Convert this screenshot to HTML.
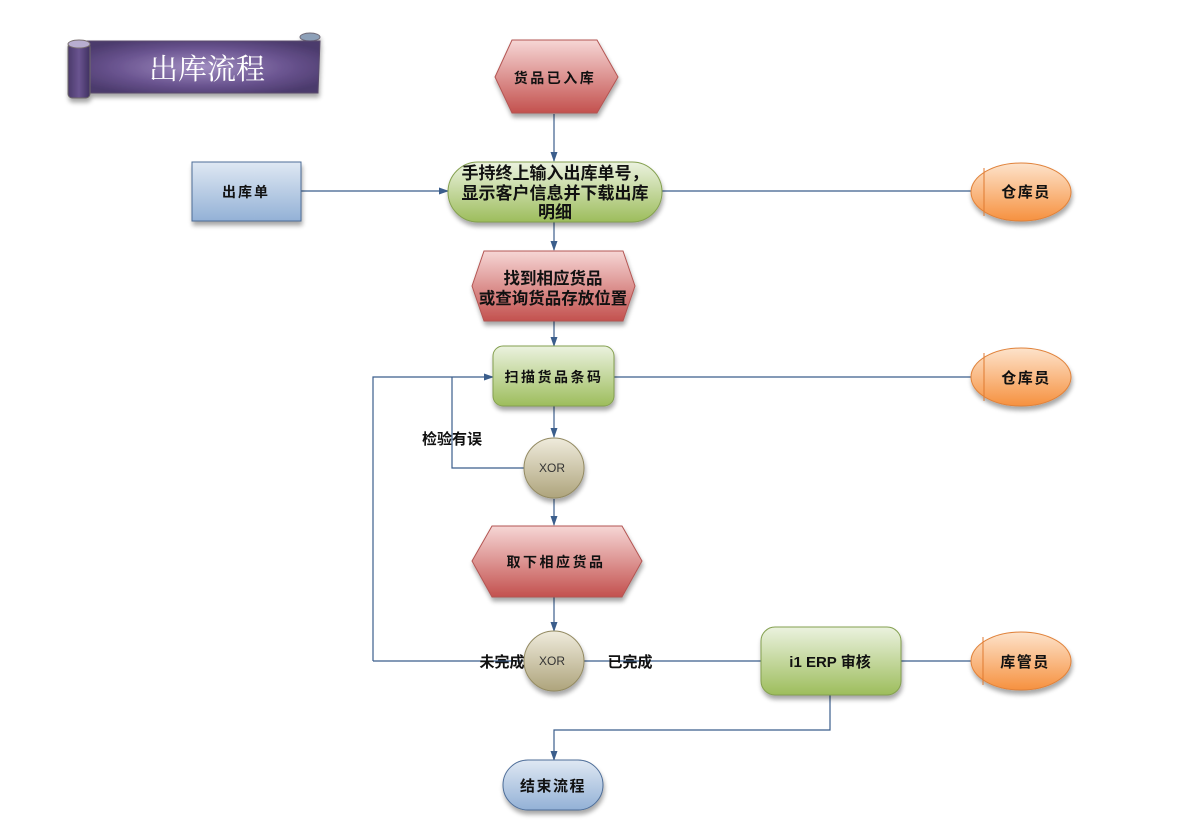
<!DOCTYPE html>
<html><head><meta charset="utf-8"><style>
html,body{margin:0;padding:0;background:#fff;}
svg{display:block;}
.t{font-family:"Liberation Sans","Noto Sans CJK SC",sans-serif;font-weight:bold;fill:#111;}
.l{stroke:#3b5e8c;stroke-width:1.2;fill:none;}
</style></head><body>
<svg width="1188" height="840" viewBox="0 0 1188 840" xmlns="http://www.w3.org/2000/svg">
<defs>
<filter id="sh" x="-20%" y="-20%" width="140%" height="150%">
<feGaussianBlur in="SourceAlpha" stdDeviation="2.5"/>
<feOffset dx="1" dy="4" result="o"/>
<feComponentTransfer><feFuncA type="linear" slope="0.35"/></feComponentTransfer>
<feMerge><feMergeNode/><feMergeNode in="SourceGraphic"/></feMerge>
</filter>
<linearGradient id="red" x1="0" y1="0" x2="0" y2="1"><stop offset="0" stop-color="#f6d6d5"/><stop offset="1" stop-color="#c3514e"/></linearGradient>
<linearGradient id="grn" x1="0" y1="0" x2="0" y2="1"><stop offset="0" stop-color="#ebf2df"/><stop offset="1" stop-color="#9dbd5c"/></linearGradient>
<linearGradient id="blu" x1="0" y1="0" x2="0" y2="1"><stop offset="0" stop-color="#dfe8f3"/><stop offset="1" stop-color="#93b1d6"/></linearGradient>
<linearGradient id="org" x1="0" y1="0" x2="0" y2="1"><stop offset="0" stop-color="#fde3cb"/><stop offset="1" stop-color="#f6913f"/></linearGradient>
<linearGradient id="xor" x1="0" y1="0" x2="0" y2="1"><stop offset="0" stop-color="#efebdc"/><stop offset="1" stop-color="#aea47c"/></linearGradient>
<radialGradient id="pur" cx="0.5" cy="0.5" r="0.6"><stop offset="0" stop-color="#a28fc2"/><stop offset="0.6" stop-color="#6a5490"/><stop offset="1" stop-color="#4b3a6c"/></radialGradient>
<linearGradient id="roll" x1="0" y1="0" x2="1" y2="0"><stop offset="0" stop-color="#4a3a6a"/><stop offset="0.5" stop-color="#6a5490"/><stop offset="1" stop-color="#3f3060"/></linearGradient>
<marker id="ar" markerWidth="10" markerHeight="8" refX="9" refY="4" orient="auto" markerUnits="userSpaceOnUse">
<path d="M0,0.5 L10,4 L0,7.5 Z" fill="#3b5e8c"/></marker>
</defs>

<!-- Title banner -->
<g filter="url(#sh)">
<ellipse cx="310" cy="37" rx="10" ry="4" fill="#8da0b8" stroke="#6f6a78" stroke-width="1"/>
<path d="M82,41 L320,41 L318,93 L82,93 Z" fill="url(#pur)" stroke="#5a4c6c" stroke-width="1"/>
<rect x="68" y="43" width="22" height="55" rx="4" fill="url(#roll)" stroke="#6f6a6a" stroke-width="1"/>
<ellipse cx="79" cy="44" rx="11" ry="4" fill="#b8aed0" stroke="#7a7070" stroke-width="1"/>
</g>
<text x="207" y="79" text-anchor="middle" font-family="'Liberation Serif','Noto Serif CJK SC',serif" font-size="29" fill="#ffffff">出库流程</text>

<!-- connectors -->
<line class="l" x1="554" y1="114" x2="554" y2="161" marker-end="url(#ar)"/>
<line class="l" x1="301" y1="191" x2="448" y2="191" marker-end="url(#ar)"/>
<line class="l" x1="662" y1="191" x2="972" y2="191"/>
<line class="l" x1="554" y1="222" x2="554" y2="250" marker-end="url(#ar)"/>
<line class="l" x1="554" y1="321" x2="554" y2="346" marker-end="url(#ar)"/>
<line class="l" x1="614" y1="377" x2="972" y2="377"/>
<polyline class="l" points="373,661 373,377 493,377" marker-end="url(#ar)"/>
<polyline class="l" points="524,468 452,468 452,377"/>
<line class="l" x1="554" y1="406" x2="554" y2="437" marker-end="url(#ar)"/>
<line class="l" x1="554" y1="499" x2="554" y2="525" marker-end="url(#ar)"/>
<line class="l" x1="554" y1="597" x2="554" y2="631" marker-end="url(#ar)"/>
<line class="l" x1="373" y1="661" x2="524" y2="661"/>
<line class="l" x1="584" y1="661" x2="761" y2="661"/>
<line class="l" x1="901" y1="661" x2="972" y2="661"/>
<polyline class="l" points="830,695 830,730 554,730 554,760" marker-end="url(#ar)"/>

<!-- shapes -->
<g filter="url(#sh)">
<polygon points="495,77 512,40 597,40 618,77 597,113 512,113" fill="url(#red)" stroke="#b35552" stroke-width="1"/>
<rect x="448" y="162" width="214" height="60" rx="30" fill="url(#grn)" stroke="#84a050" stroke-width="1"/>
<rect x="192" y="162" width="109" height="59" fill="url(#blu)" stroke="#4d6d98" stroke-width="1"/>
<ellipse cx="1021" cy="192" rx="50" ry="29" fill="url(#org)" stroke="#e0823a" stroke-width="1"/>
<polygon points="472,286 484,251 623,251 635,286 623,321 484,321" fill="url(#red)" stroke="#b35552" stroke-width="1"/>
<rect x="493" y="346" width="121" height="60" rx="10" fill="url(#grn)" stroke="#84a050" stroke-width="1"/>
<ellipse cx="1021" cy="377" rx="50" ry="29" fill="url(#org)" stroke="#e0823a" stroke-width="1"/>
<circle cx="554" cy="468" r="30" fill="url(#xor)" stroke="#938a62" stroke-width="1"/>
<polygon points="472,561 492,526 622,526 642,561 622,597 492,597" fill="url(#red)" stroke="#b35552" stroke-width="1"/>
<circle cx="554" cy="661" r="30" fill="url(#xor)" stroke="#938a62" stroke-width="1"/>
<rect x="761" y="627" width="140" height="68" rx="14" fill="url(#grn)" stroke="#84a050" stroke-width="1"/>
<ellipse cx="1021" cy="661" rx="50" ry="29" fill="url(#org)" stroke="#e0823a" stroke-width="1"/>
<rect x="503" y="760" width="100" height="50" rx="25" fill="url(#blu)" stroke="#4d6d98" stroke-width="1"/>
</g>
<line x1="984" y1="168" x2="984" y2="216" stroke="#e07a30" stroke-width="1"/>
<line x1="984" y1="353" x2="984" y2="401" stroke="#e07a30" stroke-width="1"/>
<line x1="983" y1="637" x2="983" y2="685" stroke="#e07a30" stroke-width="1"/>

<!-- texts -->
<text class="t" x="555" y="83" text-anchor="middle" font-size="14" letter-spacing="2.5">货品已入库</text>
<text class="t" x="555" y="179" text-anchor="middle" font-size="17">手持终上输入出库单号，</text>
<text class="t" x="555" y="199" text-anchor="middle" font-size="17">显示客户信息并下载出库</text>
<text class="t" x="555" y="218" text-anchor="middle" font-size="17">明细</text>
<text class="t" x="246" y="197" text-anchor="middle" font-size="14" letter-spacing="2">出库单</text>
<text class="t" x="1026" y="197" text-anchor="middle" font-size="15" letter-spacing="1.5">仓库员</text>
<text class="t" x="553" y="284" text-anchor="middle" font-size="16.5">找到相应货品</text>
<text class="t" x="553" y="304" text-anchor="middle" font-size="16.5">或查询货品存放位置</text>
<text class="t" x="554" y="382" text-anchor="middle" font-size="14" letter-spacing="2.5">扫描货品条码</text>
<text class="t" x="1026" y="383" text-anchor="middle" font-size="15" letter-spacing="1.5">仓库员</text>
<text class="t" x="452" y="444" text-anchor="middle" font-size="15">检验有误</text>
<text x="552" y="472" text-anchor="middle" font-family="'Liberation Sans',sans-serif" font-size="12" fill="#333">XOR</text>
<text class="t" x="556" y="567" text-anchor="middle" font-size="14" letter-spacing="2.5">取下相应货品</text>
<text x="552" y="665" text-anchor="middle" font-family="'Liberation Sans',sans-serif" font-size="12" fill="#333">XOR</text>
<text class="t" x="502" y="667" text-anchor="middle" font-size="15">未完成</text>
<text class="t" x="630" y="667" text-anchor="middle" font-size="15">已完成</text>
<text class="t" x="830" y="667" text-anchor="middle" font-size="15">i1 ERP 审核</text>
<text class="t" x="1025" y="667" text-anchor="middle" font-size="15" letter-spacing="1.5">库管员</text>
<text class="t" x="553" y="791" text-anchor="middle" font-size="15" letter-spacing="1.5">结束流程</text>
</svg>
</body></html>
